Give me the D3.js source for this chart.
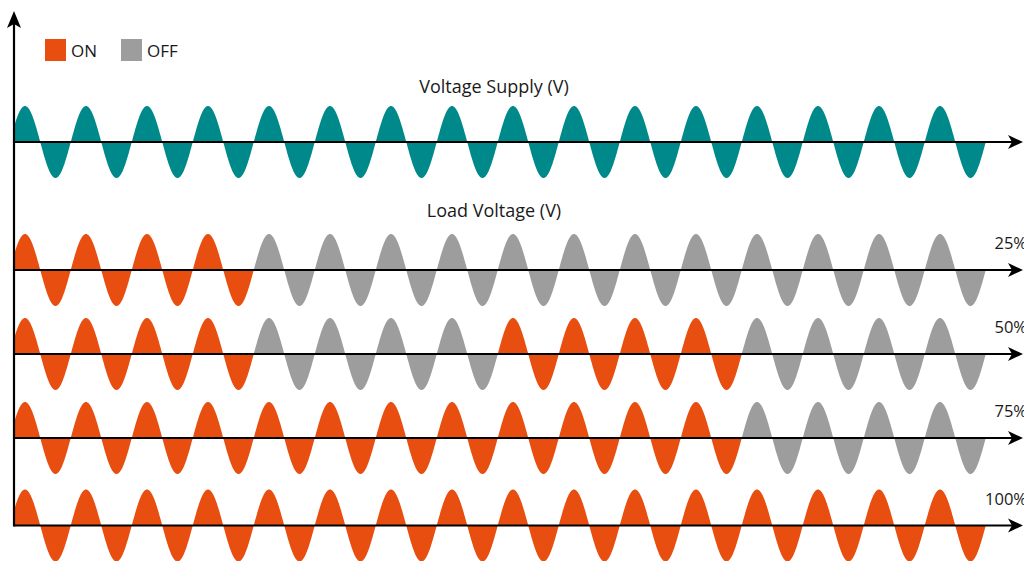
<!DOCTYPE html>
<html>
<head>
<meta charset="utf-8">
<script src="https://cdn.jsdelivr.net/npm/d3@7"></script>
<style>
  html, body { margin: 0; padding: 0; background: #fff; }
  svg { display: block; }
</style>
</head>
<body>
<div id="chart"></div>
<script>
// ON / OFF state of each of the 16 mains cycles
const supplyStates = [1,1,1,1,1,1,1,1,1,1,1,1,1,1,1,1];
const rowLabels = ["25%", "50%", "75%", "100%"];
const loadStates = [
    [1,1,1,1,0,0,0,0,0,0,0,0,0,0,0,0],
    [1,1,1,1,0,0,0,0,1,1,1,1,0,0,0,0],
    [1,1,1,1,1,1,1,1,1,1,1,1,0,0,0,0],
    [1,1,1,1,1,1,1,1,1,1,1,1,1,1,1,1]
];
const legendItems = [
    { label: "ON", color: "#e84e0f" },
    { label: "OFF", color: "#9d9d9d" }
];

const width = 1024, height = 561;
const axisX = 14;
const supplyY = 142;
const rowYs = [270, 354, 438, 525.5];
const amp = 36;
const nCycles = supplyStates.length;

const svg = d3.select("#chart")
    .append("svg")
    .attr("width", width)
    .attr("height", height);

svg.append("defs").append("clipPath")
    .attr("id", "plot-clip")
    .append("rect")
    .attr("x", axisX).attr("y", 0)
    .attr("width", width - axisX).attr("height", height);

const x = d3.scaleLinear()
    .domain([0, nCycles])
    .range([9.75, 985.75]);

function drawWave(states, baseY, colorFn) {
    const y = d3.scaleLinear().domain([-1, 1]).range([baseY + amp, baseY - amp]);
    const g = svg.append("g").attr("clip-path", "url(#plot-clip)");
    states.forEach((s, i) => {
        const pts = d3.range(0, 121).map(k => i + k / 120);
        const area = d3.area()
            .x(t => x(t))
            .y0(y(0))
            .y1(t => y(Math.sin(2 * Math.PI * t)));
        g.append("path")
            .attr("d", area(pts))
            .attr("fill", colorFn(s));
    });
}

function hArrow(yPos) {
    svg.append("line")
        .attr("x1", axisX).attr("x2", 1012)
        .attr("y1", yPos).attr("y2", yPos)
        .attr("stroke", "#000").attr("stroke-width", 2.2);
    svg.append("path")
        .attr("d", `M1023,${yPos} L1008,${yPos - 7} L1012,${yPos} L1008,${yPos + 7} Z`)
        .attr("fill", "#000");
}

// supply wave
drawWave(supplyStates, supplyY, () => "#00898a");
hArrow(supplyY);

// load rows
loadStates.forEach((states, r) => {
    drawWave(states, rowYs[r], s => s ? legendItems[0].color : legendItems[1].color);
    hArrow(rowYs[r]);
    svg.append("text")
        .attr("x", 1027)
        .attr("y", rowYs[r] - 21)
        .attr("text-anchor", "end")
        .style("font", "16.5px 'Open Sans', sans-serif")
        .attr("fill", "#1a1a1a")
        .text(rowLabels[r]);
});

// vertical axis
svg.append("line")
    .attr("x1", axisX).attr("x2", axisX)
    .attr("y1", 24).attr("y2", rowYs[rowYs.length - 1] + 1)
    .attr("stroke", "#000").attr("stroke-width", 2.2);
svg.append("path")
    .attr("d", `M${axisX},11 L${axisX - 7},28 L${axisX},24 L${axisX + 7},28 Z`)
    .attr("fill", "#000");

// titles
svg.append("text")
    .attr("x", 494).attr("y", 93)
    .attr("text-anchor", "middle")
    .style("font", "18px 'Open Sans', sans-serif")
    .attr("fill", "#1a1a1a")
    .text("Voltage Supply (V)");
svg.append("text")
    .attr("x", 494).attr("y", 217)
    .attr("text-anchor", "middle")
    .style("font", "18px 'Open Sans', sans-serif")
    .attr("fill", "#1a1a1a")
    .text("Load Voltage (V)");

// legend
const legendX = [45, 121];
const leg = svg.selectAll(".legend")
    .data(legendItems)
    .join("g")
    .attr("class", "legend")
    .attr("transform", (d, i) => `translate(${legendX[i]},39)`);
leg.append("rect")
    .attr("width", 21).attr("height", 22)
    .attr("fill", d => d.color);
leg.append("text")
    .attr("x", 26).attr("y", 18)
    .style("font", "17px 'Open Sans', sans-serif")
    .attr("fill", "#1a1a1a")
    .text(d => d.label);
</script>
</body>
</html>
